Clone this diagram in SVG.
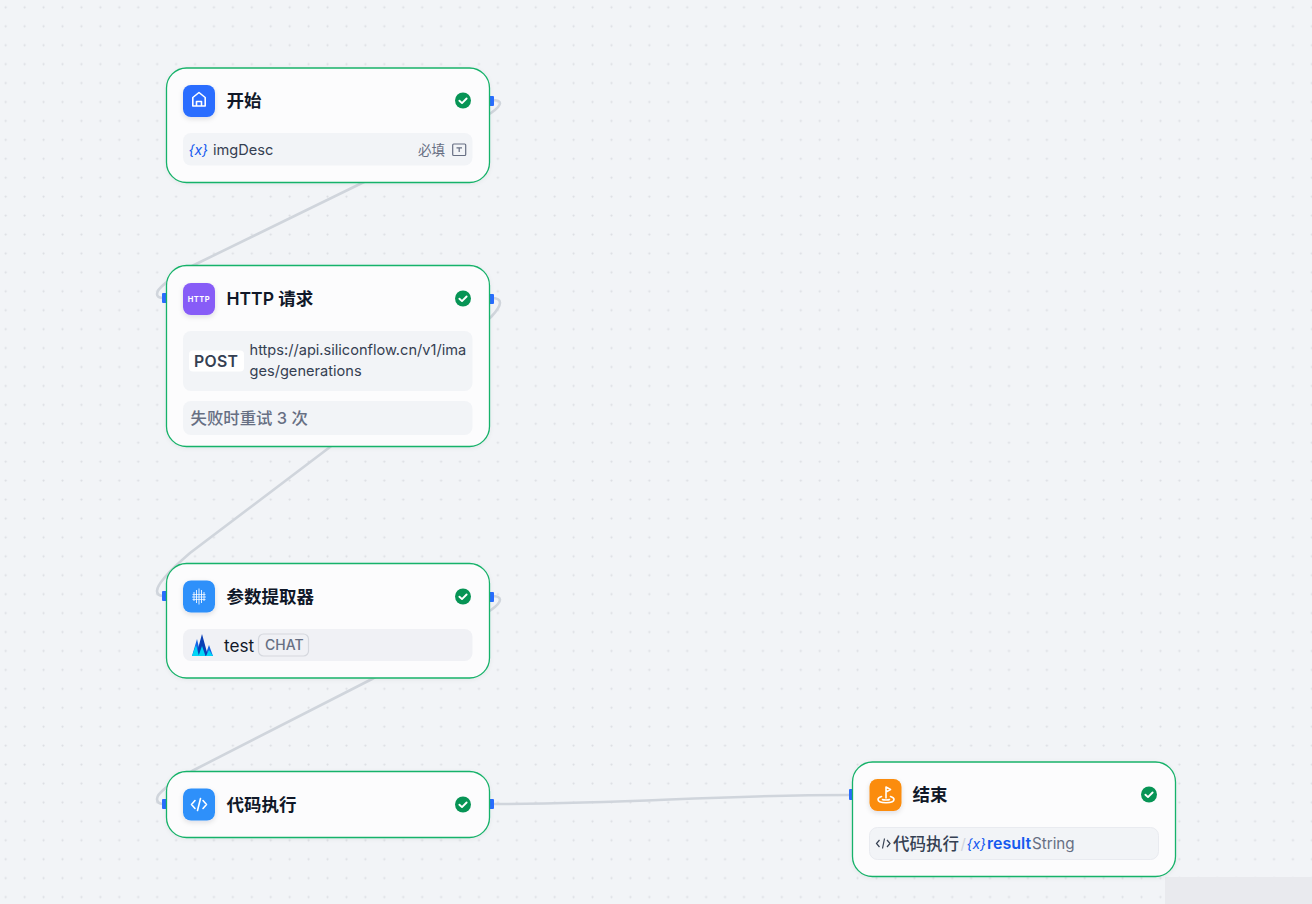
<svg xmlns="http://www.w3.org/2000/svg" width="1312" height="904" viewBox="0 0 1312 904">
<style>
text{font-family:"Inter","Noto Sans CJK SC",sans-serif}
.card{fill:#fcfcfd;stroke:#17b26a;stroke-width:1.3;filter:url(#cs)}
.row{fill:#f2f4f7}
.ico{filter:url(#is)}
.title{font-size:17.5px;font-weight:600;fill:#101828}
.handle{fill:#296dff}
.edge{fill:none;stroke:#d0d5dc;stroke-width:2.6}
.ok{fill:#079455}
.tick{fill:none;stroke:#fff;stroke-width:1.9;stroke-linecap:round;stroke-linejoin:round}
.gl{fill:none;stroke:#fff;stroke-width:1.6;stroke-linecap:round;stroke-linejoin:round}
.body{font-size:14.6px;fill:#354052}
</style>
<defs>
<pattern id="dots" width="18.93" height="18.93" patternUnits="userSpaceOnUse" x="-3.8" y="-2.2"><circle cx="9.5" cy="9.5" r="1.1" fill="#dcdee3"/></pattern>
<filter id="cs" x="-10%" y="-20%" width="120%" height="140%"><feDropShadow dx="0" dy="1" stdDeviation="2" flood-color="#101828" flood-opacity=".06"/></filter>
<filter id="is" x="-30%" y="-30%" width="160%" height="160%"><feDropShadow dx="0" dy="2" stdDeviation="2.5" flood-color="#101828" flood-opacity=".12"/></filter>
<g id="check"><circle r="8" class="ok"/><path class="tick" d="M-3.6 0.2L-1 2.6L3.6-2"/></g>
</defs>
<rect width="1312" height="904" fill="#f2f4f7"/>
<rect width="1312" height="904" fill="url(#dots)"/>
<rect x="1165" y="877" width="147" height="27" fill="#e9eaee"/>
<g id="connectors">
<path class="edge" d="M491 100C503 100 503 104 491 113L364 182L192 266C168 280 157 288 157 294C157 297 160 298 164 298"/>
<path class="edge" d="M491 298C503 298 503 304 491 317L330 447L190 553C168 572 157 585 157 591C157 595 160 596 164 596"/>
<path class="edge" d="M491 596C503 596 503 601 491 610L372 679L192 771C168 785 157 793 157 799C157 803 160 804 164 804"/>
<path class="edge" d="M491 804C640 804 700 795 851 795"/>
</g>
<g id="node-start">
<rect class="handle" x="488" y="96" width="6" height="10" rx="1"/>
<rect class="card" x="166.500" y="68" width="323" height="114.500" rx="20"/>
<rect class="ico" x="183" y="85" width="32" height="32" rx="8" fill="#296dff"/>
<path class="gl" d="M192.800 106v-8.500l6.200-5l6.200 5v8.500zM196.500 106v-4.500h5v4.500"/>
<text class="title" x="226.500" y="107">开始</text>
<use href="#check" x="463" y="100.500"/>
<rect class="row" x="183" y="133" width="289.500" height="32.500" rx="8"/>
<text x="188.500" y="154.500" font-size="14" font-style="italic" font-weight="400" fill="#155aef">{x}</text>
<text class="body" x="213" y="155">imgDesc</text>
<text x="418" y="154.500" font-size="13.500" fill="#676f83">必填</text>
<g fill="none" stroke="#676f83" stroke-width="1.2"><rect x="452.700" y="144" width="13" height="11.500" rx="1"/><path d="M456.500 147.800h5.500M459.200 147.800v4.200"/></g>
</g>
<g id="node-http">
<rect class="handle" x="162" y="293" width="6" height="10" rx="1"/>
<rect class="handle" x="488" y="294" width="6" height="10" rx="1"/>
<rect class="card" x="166.500" y="265.500" width="323" height="181" rx="20"/>
<rect class="ico" x="183" y="283" width="32" height="32" rx="8" fill="#875bf7"/>
<text x="199" y="301.500" font-size="7.500" font-weight="700" fill="#fff" text-anchor="middle" letter-spacing=".5">HTTP</text>
<text class="title" x="226.500" y="305">HTTP 请求</text>
<use href="#check" x="463" y="298.500"/>
<rect class="row" x="183" y="331" width="289.500" height="60" rx="8"/>
<rect x="189" y="350.500" width="55" height="21" rx="4" fill="#fff"/>
<text x="194" y="367" font-size="15.800" font-weight="600" fill="#354052" letter-spacing=".3">POST</text>
<text class="body" x="249.500" y="355">https://api.siliconflow.cn/v1/ima</text>
<text class="body" x="249.500" y="376">ges/generations</text>
<rect class="row" x="183" y="401" width="289.500" height="34" rx="8"/>
<text x="190.500" y="424" font-size="16.400" font-weight="500" fill="#676f83">失败时重试 3 次</text>
</g>
<g id="node-extractor">
<rect class="handle" x="162" y="591" width="6" height="10" rx="1"/>
<rect class="handle" x="488" y="592" width="6" height="10" rx="1"/>
<rect class="card" x="166.500" y="563.500" width="323" height="114.500" rx="20"/>
<rect class="ico" x="183" y="580.500" width="32" height="32" rx="8" fill="#2e90fa"/>
<g fill="#fff"><path d="M196 590h1v13h-1zM198.500 588.500h1v16h-1zM201 590h1v13h-1zM193.500 592h1v9h-1zM203.500 592h1v9h-1z" opacity=".85"/><path d="M192.500 594h13v1h-13zM192 596.500h14v1h-14zM192.500 599h13v1h-13z" opacity=".7"/></g>
<text class="title" x="226.500" y="603">参数提取器</text>
<use href="#check" x="463" y="596.500"/>
<rect x="183" y="629" width="289.500" height="32" rx="8" fill="#f0f1f5"/>
<path fill="#1464e6" d="M192 656L197 639L201 656zM205 656L209 645L213 656z"/>
<path fill="#0a3fb5" d="M196 656L202 634L208 656z"/>
<path fill="#00d5f5" d="M192 656L196 645L199 656zM206 656L209 650L213 656zM198.500 656L202 646L205.500 656z"/>
<text x="224" y="651.500" font-size="17.200" fill="#101828">test</text>
<rect x="258.500" y="634" width="50" height="22" rx="5" fill="none" stroke="#d5d8de" stroke-width="1.2"/>
<text x="265" y="650" font-size="14" font-weight="500" fill="#676f83">CHAT</text>
</g>
<g id="node-code">
<rect class="handle" x="162" y="799" width="6" height="10" rx="1"/>
<rect class="handle" x="488" y="799" width="6" height="10" rx="1"/>
<rect class="card" x="166.500" y="771.500" width="323" height="66" rx="20"/>
<rect class="ico" x="183" y="788.500" width="32" height="32" rx="8" fill="#2e90fa"/>
<path class="gl" d="M195 800.500l-3.500 4l3.500 4M203 800.500l3.500 4l-3.500 4M200.500 798.500l-3 12"/>
<text class="title" x="226.500" y="811">代码执行</text>
<use href="#check" x="463" y="804.500"/>
</g>
<g id="node-end">
<rect class="handle" x="849" y="789" width="6" height="11" rx="1"/>
<rect class="card" x="852.500" y="762" width="323" height="114.500" rx="20"/>
<rect class="ico" x="869.500" y="779" width="32" height="32" rx="8" fill="#fb8c0a"/>
<path class="gl" d="M886 798v-11l4.500 2.500l-4.500 2.500M881.500 796.500c-2.500 .8-3.500 2-3.500 3c0 2 3.500 3.200 8 3.200s8-1.200 8-3.200c0-1-1-2.200-3.500-3M882.500 799.500c1 .7 6 .7 7 0"/>
<text class="title" x="912.500" y="801">结束</text>
<use href="#check" x="1149" y="794.500"/>
<rect x="869.500" y="827.500" width="289" height="32" rx="8" fill="#f2f4f7" stroke="#e9ebf0"/>
<path fill="none" stroke="#354052" stroke-width="1.2" d="M879.500 840l-3 3.500l3 3.500M887 840l3 3.500l-3 3.500M884.500 838.500l-2 10"/>
<text x="893" y="849.500" font-size="16.500" font-weight="500" fill="#354052">代码执行</text>
<text x="960.500" y="849" font-size="15" fill="#d0d5dc">/</text>
<text x="966.500" y="848.500" font-size="14" font-style="italic" font-weight="400" fill="#155aef">{x}</text>
<text x="987" y="849" font-size="16" font-weight="600" fill="#155aef">result</text>
<text x="1032" y="849" font-size="15.200" fill="#676f83">String</text>
</g>
</svg>
